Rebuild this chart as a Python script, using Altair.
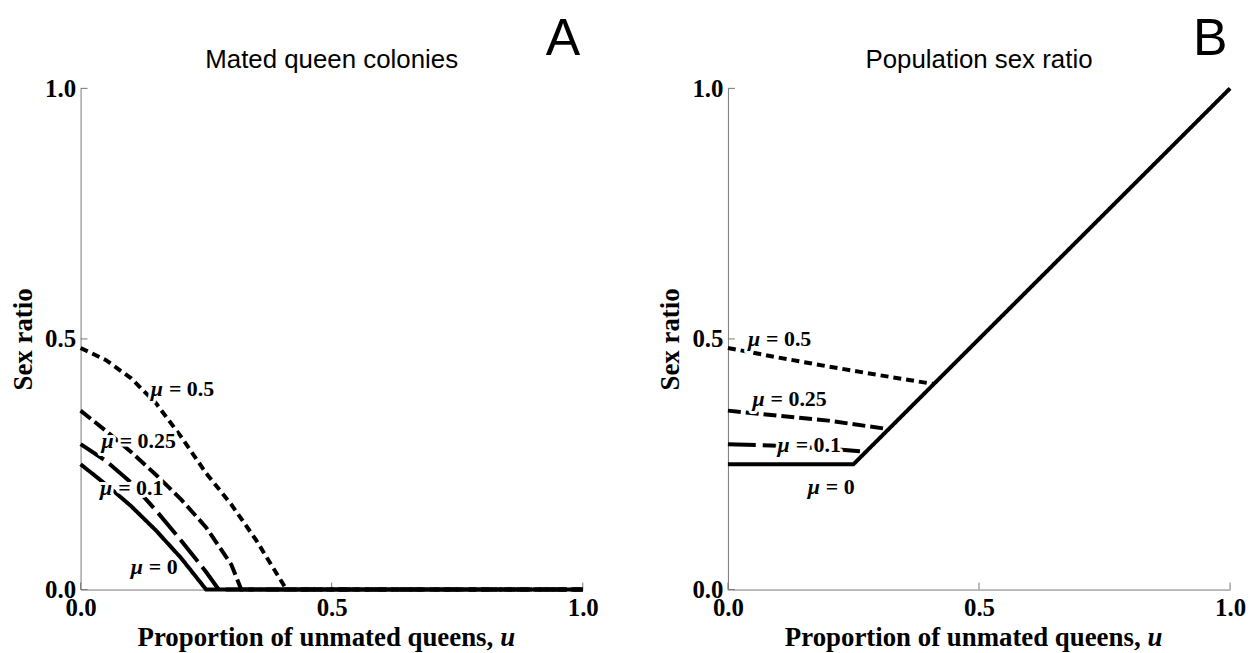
import altair as alt
import pandas as pd

# ---- data ----
mu_keys = ["0", "0.1", "0.25", "0.5"]
mu_texts = ["= 0", "= 0.1", "= 0.25", "= 0.5"]

# Panel A: sex ratio of mated queen colonies
a_u_0 = [0.0, 0.05, 0.1, 0.15, 0.2, 0.25, 1.0]
a_r_0 = [0.25, 0.21, 0.167, 0.118, 0.063, 0.0, 0.0]
a_u_01 = [0.0, 0.05, 0.1, 0.15, 0.2, 0.25, 0.275, 1.0]
a_r_01 = [0.29, 0.257, 0.214, 0.158, 0.098, 0.035, 0.0, 0.0]
a_u_025 = [0.0, 0.05, 0.1, 0.15, 0.2, 0.25, 0.3, 0.32, 1.0]
a_r_025 = [0.357, 0.317, 0.275, 0.229, 0.18, 0.124, 0.05, 0.0, 0.0]
a_u_05 = [0.0, 0.05, 0.1, 0.15, 0.2, 0.25, 0.3, 0.35, 0.41, 1.0]
a_r_05 = [0.482, 0.458, 0.422, 0.372, 0.305, 0.232, 0.17, 0.098, 0.0, 0.0]

# Panel B: population sex ratio
b_u_0 = [0.0, 0.25, 1.0]
b_r_0 = [0.25, 0.25, 1.0]
b_u_01 = [0.0, 0.1, 0.2, 0.275]
b_r_01 = [0.29, 0.287, 0.281, 0.275]
b_u_025 = [0.0, 0.1, 0.2, 0.32]
b_r_025 = [0.357, 0.347, 0.337, 0.32]
b_u_05 = [0.0, 0.1, 0.2, 0.3, 0.41]
b_r_05 = [0.482, 0.463, 0.445, 0.428, 0.41]

# label anchor positions (data coords, where the mu symbol ends)
a_lab_u = [0.124, 0.063, 0.066, 0.164]
a_lab_r = [0.044, 0.202, 0.296, 0.40]
b_lab_u = [0.183, 0.123, 0.073, 0.064]
b_lab_r = [0.205, 0.289, 0.38, 0.50]

tick_vals = [0.0, 0.5, 1.0]

# ---- styling ----
W, H = 505, 504
SERIF = "Liberation Serif"
SANS = "Liberation Sans"
dash_range = [[1, 0], [28, 7], [13, 5], [8, 5]]


def lines_frame(us, rs):
    rows = []
    for key, u_list, r_list in zip(mu_keys, us, rs):
        for u, r in zip(u_list, r_list):
            rows.append({"mu": key, "u": u, "r": r})
    return pd.DataFrame(rows)


def panel(df, lab_u, lab_r, title, letter):
    xenc = alt.X("u:Q", scale=alt.Scale(domain=[0, 1], nice=False),
                 axis=alt.Axis(values=tick_vals, format=".1f", title=None,
                               labelFlush=False, labelPadding=6))
    yenc = alt.Y("r:Q", scale=alt.Scale(domain=[0, 1], nice=False),
                 axis=alt.Axis(values=tick_vals, format=".1f", title="Sex ratio",
                               labelFlush=False, labelPadding=5, titlePadding=7))

    lines = alt.Chart(df).mark_line(color="black", strokeWidth=4, strokeCap="butt").encode(
        x=xenc, y=yenc,
        strokeDash=alt.StrokeDash("mu:N", scale=alt.Scale(domain=mu_keys, range=dash_range), legend=None),
        order="u:Q",
    )

    xt = alt.Chart(pd.DataFrame({"u": tick_vals})).mark_rule(color="#777", strokeWidth=1).encode(
        x=xenc, y=alt.value(H), y2=alt.value(H - 7))
    yt = alt.Chart(pd.DataFrame({"r": tick_vals})).mark_rule(color="#777", strokeWidth=1).encode(
        y=yenc, x=alt.value(0), x2=alt.value(7))

    lab = pd.DataFrame({"u": lab_u, "r": lab_r, "m": ["μ"] * 4, "t": mu_texts})
    lb = alt.Chart(lab)
    common = dict(baseline="middle", font=SERIF, fontSize=22, fontWeight="bold")
    halo_m = lb.mark_text(align="right", fontStyle="italic", color="white", stroke="white", strokeWidth=6,
                          strokeJoin="round", **common).encode(x=xenc, y=yenc, text="m:N")
    halo_t = lb.mark_text(align="left", dx=6, color="white", stroke="white", strokeWidth=6,
                          strokeJoin="round", **common).encode(x=xenc, y=yenc, text="t:N")
    txt_m = lb.mark_text(align="right", fontStyle="italic", color="black", **common).encode(
        x=xenc, y=yenc, text="m:N")
    txt_t = lb.mark_text(align="left", dx=6, color="black", **common).encode(
        x=xenc, y=yenc, text="t:N")

    ttl = alt.Chart(pd.DataFrame({"s": [title]})).mark_text(
        align="center", baseline="middle", font=SANS, fontSize=26, color="black").encode(
        text="s:N", x=alt.value(W / 2), y=alt.value(-28))
    let = alt.Chart(pd.DataFrame({"s": [letter]})).mark_text(
        align="center", baseline="middle", font=SANS, fontSize=52, color="black").encode(
        text="s:N", x=alt.value(W - 20), y=alt.value(-50))

    xt1 = alt.Chart(pd.DataFrame({"s": ["Proportion of unmated queens,"]})).mark_text(
        align="right", baseline="middle", font=SERIF, fontSize=27, fontWeight="bold", color="black").encode(
        text="s:N", x=alt.value(415), y=alt.value(H + 49))
    xt2 = alt.Chart(pd.DataFrame({"s": ["u"]})).mark_text(
        align="left", baseline="middle", font=SERIF, fontSize=27, fontWeight="bold", fontStyle="italic",
        color="black").encode(text="s:N", x=alt.value(422), y=alt.value(H + 49))

    return alt.layer(xt, yt, lines, halo_m, halo_t, txt_m, txt_t, ttl, let, xt1, xt2).properties(
        width=W, height=H,
    )


pa = panel(lines_frame([a_u_0, a_u_01, a_u_025, a_u_05], [a_r_0, a_r_01, a_r_025, a_r_05]),
           a_lab_u, a_lab_r, "Mated queen colonies", "A")
pb = panel(lines_frame([b_u_0, b_u_01, b_u_025, b_u_05], [b_r_0, b_r_01, b_r_025, b_r_05]),
           b_lab_u, b_lab_r, "Population sex ratio", "B")

chart = alt.hconcat(pa, pb, spacing=58).properties(
    padding={"left": 1, "top": 3, "right": 0, "bottom": 0}
).configure_view(stroke=None).configure_axis(
    domainColor="#777", domainWidth=1, ticks=False, grid=False,
    labelFont=SERIF, labelFontSize=25, labelFontWeight="bold", labelColor="black",
    titleFont=SERIF, titleFontSize=27, titleFontWeight="bold", titleColor="black",
)

chart.save("out.html", embed_options={"renderer": "svg", "actions": False})
